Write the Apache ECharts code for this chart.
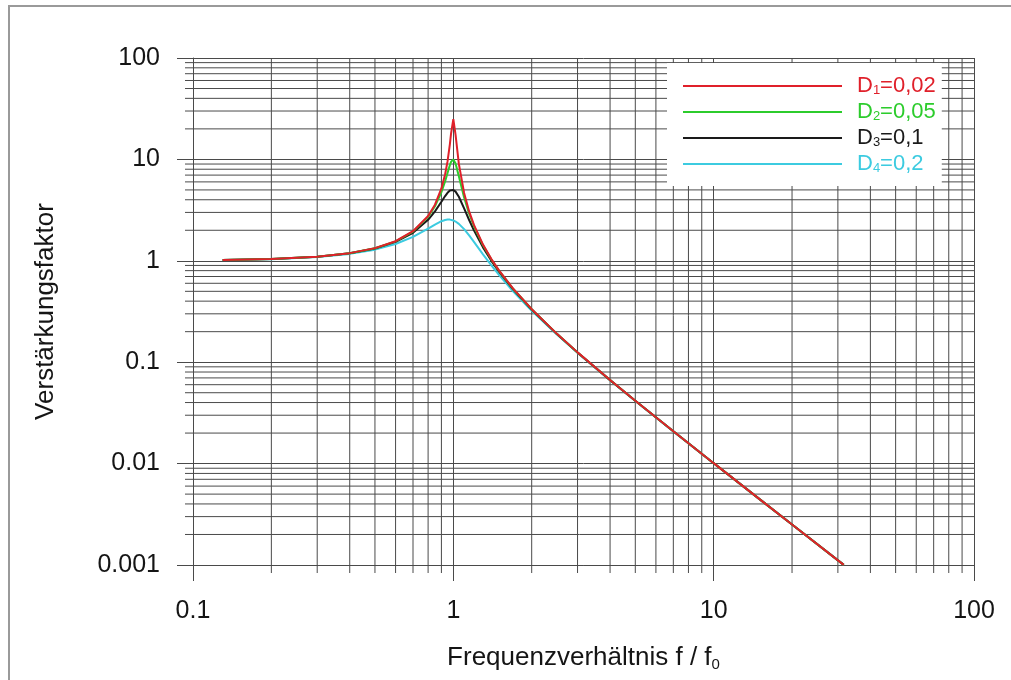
<!DOCTYPE html>
<html lang="de">
  <head>
    <meta charset="utf-8">
    <title>Verstärkungsfaktor</title>
    <script src="https://cdn.jsdelivr.net/npm/echarts@6.0.0/dist/echarts.min.js"></script>
    <style>
      body { margin: 0; background: #fff; overflow: hidden; }
      #frame { position: absolute; left: 8px; top: 5px; width: 1100px; height: 673px;
               border-left: 2px solid #9a9a9a; border-top: 2px solid #9a9a9a; border-bottom: 1px solid #e4e4e4; }
      #main { position: absolute; left: 0; top: 0; width: 1011px; height: 680px; }
    </style>
  </head>

  <body>
    <div id="frame"></div>
    <div id="main"></div>
    <script type="text/javascript">
      // Frequenzverhältnis f/f0
      var eta = [0.13, 0.2, 0.3, 0.4, 0.5, 0.6, 0.7, 0.8, 0.85, 0.9, 0.93, 0.95, 0.97, 0.98,
                 1.0, 1.02, 1.05, 1.1, 1.15, 1.2, 1.3, 1.4, 1.5, 1.7, 2, 2.5, 3, 4, 5, 7, 10, 15, 20, 31.6];

      // Verstärkungsfaktor je Dämpfung
      var d1 = [1.017, 1.042, 1.099, 1.190, 1.333, 1.561, 1.958, 2.767, 3.577, 5.171, 7.136, 9.556, 14.15, 17.95,
                25.0, 17.42, 9.028, 4.661, 3.070, 2.259, 1.445, 1.040, 0.799, 0.529, 0.3332, 0.1904, 0.1250,
                0.06666, 0.04167, 0.02083, 0.01010, 0.004464, 0.002506, 0.001002];
      var d2 = [1.017, 1.041, 1.098, 1.189, 1.330, 1.556, 1.943, 2.712, 3.446, 4.756, 6.097, 7.346, 8.804, 9.461,
                10.0, 9.115, 6.815, 4.218, 2.921, 2.193, 1.424, 1.031, 0.794, 0.527, 0.3326, 0.1903, 0.1249,
                0.06664, 0.04166, 0.02083, 0.01010, 0.004464, 0.002506, 0.001002];
      var d3 = [1.017, 1.041, 1.097, 1.185, 1.322, 1.536, 1.891, 2.538, 3.073, 3.821, 4.350, 4.683, 4.931, 5.001,
                5.0, 4.809, 4.279, 3.288, 2.525, 1.995, 1.356, 1.000, 0.778, 0.521, 0.3304, 0.1896, 0.1247,
                0.06657, 0.04163, 0.02083, 0.01010, 0.004464, 0.002506, 0.001002];
      var d4 = [1.016, 1.038, 1.090, 1.170, 1.288, 1.463, 1.719, 2.076, 2.279, 2.457, 2.527, 2.549, 2.548, 2.538,
                2.5, 2.439, 2.313, 2.051, 1.780, 1.536, 1.157, 0.900, 0.721, 0.498, 0.3221, 0.1871, 0.1236,
                0.06629, 0.04152, 0.02080, 0.01009, 0.004463, 0.002505, 0.001002];

      var names = ['D1', 'D2', 'D3', 'D4'];
      var labels = ['{b|D}{s|1}{b|=0,02}', '{b|D}{s|2}{b|=0,05}', '{b|D}{s|3}{b|=0,1}', '{b|D}{s|4}{b|=0,2}'];
      var colors = ['#e0202a', '#2ccc2c', '#1a1a1a', '#3ccbe0'];

      // Achsen
      var xTickLabels = ['0.1', '1', '10', '100'];
      var yTickLabels = ['0.001', '0.01', '0.1', '1', '10', '100'];
      var xMinor = [0.2, 0.3, 0.4, 0.5, 0.6, 0.7, 0.8, 0.9, 2, 3, 4, 5, 6, 7, 8, 9, 20, 30, 40, 50, 60, 70, 80, 90];
      var yMinor = [0.002, 0.003, 0.004, 0.005, 0.006, 0.007, 0.008, 0.009, 0.02, 0.03, 0.04, 0.05, 0.06, 0.07, 0.08, 0.09,
                    0.2, 0.3, 0.4, 0.5, 0.6, 0.7, 0.8, 0.9, 2, 3, 4, 5, 6, 7, 8, 9, 20, 30, 40, 50, 60, 70, 80, 90];

      var font = "'Liberation Sans', Arial, sans-serif";
      var gridColor = '#4a4a4a';
      var textColor = '#151515';

      var myChart = echarts.init(document.getElementById('main'));

      var series = [];
      var all = [d1, d2, d3, d4];
      for (var i = 0; i < all.length; i++) {
        series.push({
          name: names[i],
          type: 'line',
          symbol: 'none',
          z: 10 - i,
          lineStyle: { color: colors[i], width: 2 },
          itemStyle: { color: colors[i] },
          data: eta.map(function (x, j) { return [x, all[i][j]]; })
        });
      }

      // Nebenraster
      series.push({
        type: 'custom',
        silent: true,
        z: 1,
        data: xMinor.map(function (x) { return [x, 1]; }),
        renderItem: function (params, api) {
          var a = api.coord([api.value(0), 100]);
          var b = api.coord([api.value(0), 0.001]);
          return { type: 'line', shape: { x1: a[0], y1: a[1], x2: b[0], y2: b[1] + 8 },
                   style: { stroke: gridColor, lineWidth: 1 } };
        }
      });
      series.push({
        type: 'custom',
        silent: true,
        z: 1,
        data: yMinor.map(function (y) { return [1, y]; }),
        renderItem: function (params, api) {
          var a = api.coord([0.1, api.value(1)]);
          var b = api.coord([100, api.value(1)]);
          return { type: 'line', shape: { x1: a[0] - 8, y1: a[1], x2: b[0], y2: b[1] },
                   style: { stroke: gridColor, lineWidth: 1 } };
        }
      });

      var option = {
        animation: false,
        grid: { left: 193, right: 37, top: 58, bottom: 115 },
        legend: {
          orient: 'vertical',
          left: 667,
          top: 63,
          padding: [11, 6, 11, 16],
          backgroundColor: '#fff',
          icon: 'rect',
          itemWidth: 159,
          itemHeight: 2,
          itemGap: 3,
          data: names.map(function (n, i) { return { name: n, textStyle: { color: colors[i] } }; }),
          formatter: function (n) { return labels[names.indexOf(n)]; },
          textStyle: {
            fontFamily: font,
            fontSize: 22,
            padding: [0, 0, 0, 10],
            rich: {
              b: { fontSize: 22, lineHeight: 22, fontFamily: font },
              s: { fontSize: 13, lineHeight: 13, fontFamily: font, verticalAlign: 'bottom', padding: [10, 0, 0, 0] }
            }
          }
        },
        xAxis: {
          type: 'log',
          logBase: 10,
          min: 0.1,
          max: 100,
          name: 'Frequenzverhältnis f / f{s|0}',
          nameLocation: 'middle',
          nameGap: 78,
          nameTextStyle: {
            fontFamily: font, fontSize: 26, color: textColor,
            rich: { s: { fontSize: 15, fontFamily: font, color: textColor, verticalAlign: 'bottom', padding: [14, 0, 0, 0] } }
          },
          axisLine: { lineStyle: { color: gridColor, width: 1 } },
          axisTick: { length: 16, lineStyle: { color: gridColor } },
          splitLine: { show: true, lineStyle: { color: gridColor, width: 1 } },
          axisLabel: {
            margin: 34, fontFamily: font, fontSize: 25, color: textColor,
            formatter: function (v) { return xTickLabels[Math.round(Math.log10(v)) + 1]; }
          }
        },
        yAxis: {
          type: 'log',
          logBase: 10,
          min: 0.001,
          max: 100,
          name: 'Verstärkungsfaktor',
          nameLocation: 'middle',
          nameGap: 134,
          nameTextStyle: { fontFamily: font, fontSize: 26, color: textColor },
          axisLine: { lineStyle: { color: gridColor, width: 1 } },
          axisTick: { length: 16, lineStyle: { color: gridColor } },
          splitLine: { show: true, lineStyle: { color: gridColor, width: 1 } },
          axisLabel: {
            margin: 33, fontFamily: font, fontSize: 25, color: textColor,
            formatter: function (v) { return yTickLabels[Math.round(Math.log10(v)) + 3]; }
          }
        },
        series: series
      };

      myChart.setOption(option);
    </script>
  </body>
</html>
